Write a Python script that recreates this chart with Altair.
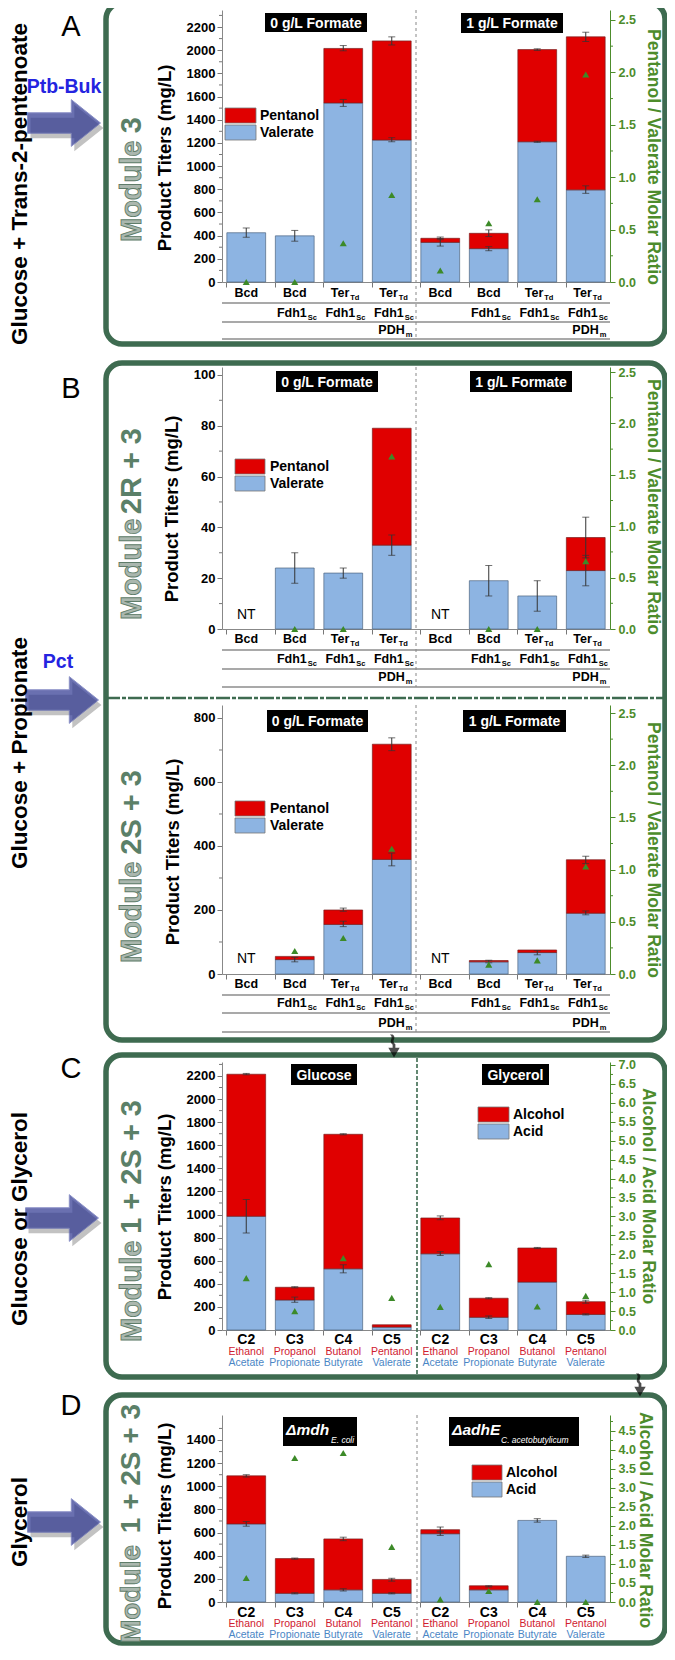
import altair as alt
import pandas as pd

# ---------------- data ----------------
AB_ROW1 = ["Bcd", "Bcd", "Ter", "Ter", "Bcd", "Bcd", "Ter", "Ter"]
AB_ROW1_SUB = ["", "", "Td", "Td", "", "", "Td", "Td"]
AB_ROW2 = ["", "Fdh1", "Fdh1", "Fdh1", "", "Fdh1", "Fdh1", "Fdh1"]
AB_ROW2_SUB = ["", "Sc", "Sc", "Sc", "", "Sc", "Sc", "Sc"]
AB_ROW3 = ["", "", "", "PDH", "", "", "", "PDH"]
AB_ROW3_SUB = ["", "", "", "m", "", "", "", "m"]

CD_CARBON = ["C2", "C3", "C4", "C5", "C2", "C3", "C4", "C5"]
CD_ALCOHOL = ["Ethanol", "Propanol", "Butanol", "Pentanol"] * 2
CD_ACID = ["Acetate", "Propionate", "Butyrate", "Valerate"] * 2

# Panel A (Module 3)
A_VALERATE = [425, 398, 1545, 1225, 342, 288, 1210, 795]
A_TOTAL = [425, 398, 2015, 2080, 377, 420, 2005, 2115]
A_VAL_LO = [386, 352, 1515, 1210, 310, 270, 1205, 765]
A_VAL_HI = [466, 445, 1575, 1245, 375, 305, 1215, 830]
A_TOT_LO = [None, None, 1995, 2045, 365, 392, 1998, 2075]
A_TOT_HI = [None, None, 2040, 2115, 388, 450, 2012, 2155]
A_RATIO = [0.0, 0.0, 0.37, 0.83, 0.11, 0.56, 0.79, 1.98]

# Panel B top (Module 2R + 3)
B1_VALERATE = [None, 24, 22, 33, None, 19, 13, 23]
B1_TOTAL = [None, 24, 22, 79, None, 19, 13, 36]
B1_VAL_LO = [None, 18, 20, 29, None, 13, 7, 17]
B1_VAL_HI = [None, 30, 24, 37, None, 25, 19, 29]
B1_TOT_LO = [None, None, None, None, None, None, None, 28]
B1_TOT_HI = [None, None, None, None, None, None, None, 44]
B1_RATIO = [None, 0.0, 0.0, 1.68, None, 0.0, 0.0, 0.66]

# Panel B bottom (Module 2S + 3)
B2_VALERATE = [None, 45, 155, 358, None, 38, 67, 190]
B2_TOTAL = [None, 55, 200, 718, None, 42, 75, 357]
B2_VAL_LO = [None, 38, 148, 338, None, 35, 60, 185]
B2_VAL_HI = [None, 52, 165, 378, None, 43, 73, 197]
B2_TOT_LO = [None, None, 196, 698, None, None, None, 345]
B2_TOT_HI = [None, None, 206, 738, None, None, None, 368]
B2_RATIO = [None, 0.22, 0.345, 1.2, None, 0.09, 0.13, 1.03]

# Panel C (Module 1 + 2S + 3, glucose / glycerol)
C_ACID = [985, 260, 530, 25, 660, 110, 415, 135]
C_TOTAL = [2215, 370, 1695, 45, 970, 275, 710, 245]
C_ACID_LO = [840, 240, 495, None, 645, 100, None, 130]
C_ACID_HI = [1130, 285, 565, None, 678, 122, None, 140]
C_TOT_LO = [2210, 365, 1690, None, 955, 270, 705, 232]
C_TOT_HI = [2222, 375, 1700, None, 988, 280, 715, 258]
C_RATIO = [1.37, 0.50, 1.90, 0.85, 0.61, 1.74, 0.62, 0.90]

# Panel D (Module 1 + 2S + 3, glycerol, knockouts)
D_ACID = [675, 75, 105, 75, 590, 105, 705, 395]
D_TOTAL = [1090, 375, 545, 195, 625, 140, 705, 395]
D_ACID_LO = [655, 70, 95, 70, 575, None, 690, 385]
D_ACID_HI = [695, 80, 115, 80, 612, None, 720, 405]
D_TOT_LO = [1080, 370, 530, 180, 605, 130, None, None]
D_TOT_HI = [1100, 380, 560, 205, 648, 140, None, None]
D_RATIO = [0.63, 3.79, 3.92, 1.45, 0.07, 0.29, 0.0, 0.0]

# ---------------- styling ----------------
W, H = 659, 1638


def P(v):
    return v - 8


FONT = "Liberation Sans"
RED = "#e00000"
BLUE = "#8db4e2"
TRI = "#3c8a28"
GRN = "#4d8c2c"
FRAME = "#3e6b50"
NAVY = "#2c3590"
DM = {"Ter": 6, "Fdh1": 12, "PDH": 13}

one = alt.Data(values=[{"k": 1}])
layers = []


def deco_text(x, y, text, **kw):
    layers.append(alt.Chart(one).mark_text(text=text, **kw).encode(
        x=alt.value(P(x)), y=alt.value(P(y))))


def deco_rect(x1, x2, y1, y2, **kw):
    layers.append(alt.Chart(one).mark_rect(**kw).encode(
        x=alt.value(P(x1)), x2=alt.value(P(x2)), y=alt.value(P(y1)), y2=alt.value(P(y2))))


def deco_rule(x1, x2, y1, y2, **kw):
    layers.append(alt.Chart(one).mark_rule(**kw).encode(
        x=alt.value(P(x1)), x2=alt.value(P(x2)), y=alt.value(P(y1)), y2=alt.value(P(y2))))


def deco_symbol(x, y, shape, size, **kw):
    layers.append(alt.Chart(one).mark_point(shape=shape, size=size, filled=True, **kw).encode(
        x=alt.value(P(x)), y=alt.value(P(y))))


def title_box(x1, x2, y1, y2, text, size=14):
    deco_rect(x1, x2, y1, y2, color="black")
    deco_text((x1 + x2) / 2, (y1 + y2) / 2 + 1, text, font=FONT, fontWeight="bold",
              fontSize=size, color="white", align="center", baseline="middle")


def legend(x1, x2, yA, yB, labA, labB, tx):
    deco_rect(x1, x2, yA, yA + 15, color=RED, stroke="#777", strokeWidth=0.8)
    deco_rect(x1, x2, yB, yB + 15, color=BLUE, stroke="#777", strokeWidth=0.8)
    deco_text(tx, yA + 8, labA, font=FONT, fontWeight="bold", fontSize=14,
              align="left", baseline="middle", color="black")
    deco_text(tx, yB + 8, labB, font=FONT, fontWeight="bold", fontSize=14,
              align="left", baseline="middle", color="black")


def bar_panel(key, y0, ytop, lmax, rmax, lmaj, lmin, rmaj, rmin,
              acid, total, a_lo, a_hi, t_lo, t_hi, ratio):
    ids = [f"{key}{i}" for i in range(8)]
    xs = alt.Scale(domain=ids, range=[P(222), P(610)], paddingInner=0.2, paddingOuter=0.1)
    ls = alt.Scale(domain=[0, lmax], range=[P(y0), P(ytop)], nice=False, zero=False)
    rs = alt.Scale(domain=[0, rmax], range=[P(y0), P(ytop)], nice=False, zero=False)

    def X(axis=None):
        return alt.X("id:N", scale=xs, axis=axis)

    df = pd.DataFrame([{"id": i, "base": 0, "acid": a, "total": t}
                       for i, a, t in zip(ids, acid, total) if a is not None])
    xaxis = alt.Axis(orient="bottom", offset=-(H - P(y0)), labels=False, title=None,
                     tickSize=5, tickColor="#777", domainColor="#888", bandPosition=0, grid=False)
    yaxis = alt.Axis(orient="left", offset=-P(222), values=lmaj, format="d", title=None,
                     labelFont=FONT, labelFontSize=13, labelFontWeight="bold", labelColor="black",
                     tickSize=5, tickColor="#777", domainColor="#888", grid=False, labelPadding=2)
    raxis = alt.Axis(orient="right", offset=-(W - P(610)), values=rmaj, format=".1f", title=None,
                     labelFont=FONT, labelFontSize=12.5, labelFontWeight="bold", labelColor=GRN,
                     tickSize=5, tickColor=GRN, domainColor=GRN, grid=False, labelPadding=3)

    layers.append(alt.Chart(df).mark_bar(color=BLUE, stroke="#4d6480", strokeWidth=0.7).encode(
        x=X(xaxis), y=alt.Y("acid:Q", scale=ls, axis=yaxis), y2=alt.Y2("base")))
    dfa = df[df["total"] > df["acid"]]
    layers.append(alt.Chart(dfa).mark_bar(color=RED, stroke="#7a2020", strokeWidth=0.7).encode(
        x=X(), y=alt.Y("total:Q", scale=ls, axis=None), y2=alt.Y2("acid")))

    errs = []
    for i, lo, hi in list(zip(ids, a_lo, a_hi)) + list(zip(ids, t_lo, t_hi)):
        if lo is not None:
            errs.append({"id": i, "lo": lo, "hi": hi})
    edf = pd.DataFrame(errs)
    cdf = pd.DataFrame([{"id": e["id"], "v": e[k]} for e in errs for k in ("lo", "hi")])
    layers.append(alt.Chart(edf).mark_rule(color="#333", strokeWidth=1).encode(
        x=X(), y=alt.Y("lo:Q", scale=ls, axis=None), y2=alt.Y2("hi")))
    layers.append(alt.Chart(cdf).mark_tick(color="#333", thickness=1, size=7, orient="horizontal").encode(
        x=X(), y=alt.Y("v:Q", scale=ls, axis=None)))

    rdf = pd.DataFrame([{"id": i, "ratio": r} for i, r in zip(ids, ratio) if r is not None])
    layers.append(alt.Chart(rdf).mark_point(shape="triangle-up", filled=True, size=50,
                                            color=TRI, opacity=1).encode(
        x=X(), y=alt.Y("ratio:Q", scale=rs, axis=raxis)))

    # minor ticks
    layers.append(alt.Chart(pd.DataFrame({"v": lmin})).mark_rule(color="#777").encode(
        x=alt.value(P(222) - 3), x2=alt.value(P(222)), y=alt.Y("v:Q", scale=ls, axis=None)))
    layers.append(alt.Chart(pd.DataFrame({"v": rmin})).mark_rule(color=GRN).encode(
        x=alt.value(P(610)), x2=alt.value(P(610) + 3), y=alt.Y("v:Q", scale=rs, axis=None)))
    return ids, X, df


def ab_labels(ids, X, ys, lines, div_top, nt_y, acid):
    rows = [(AB_ROW1, AB_ROW1_SUB), (AB_ROW2, AB_ROW2_SUB), (AB_ROW3, AB_ROW3_SUB)]
    for (mains, subs), y in zip(rows, ys):
        df = pd.DataFrame({"id": ids, "main": mains, "sub": subs})
        for lab in sorted(set(m for m in mains if m)):
            d = df[df["main"] == lab]
            s = d["sub"].iloc[0]
            if s:
                dm = DM[lab]
                layers.append(alt.Chart(d).mark_text(align="right", baseline="middle", dx=dm,
                                                     font=FONT, fontWeight="bold", fontSize=12.5,
                                                     color="black").encode(
                    x=X(), y=alt.value(P(y)), text="main:N"))
                layers.append(alt.Chart(d).mark_text(align="left", baseline="middle", dx=dm + 1, dy=5,
                                                     font=FONT, fontWeight="bold", fontSize=7.5,
                                                     color="black").encode(
                    x=X(), y=alt.value(P(y)), text="sub:N"))
            else:
                layers.append(alt.Chart(d).mark_text(align="center", baseline="middle",
                                                     font=FONT, fontWeight="bold", fontSize=12.5,
                                                     color="black").encode(
                    x=X(), y=alt.value(P(y)), text="main:N"))
    for ly in lines:
        deco_rule(222, 610, ly, ly, color="#555", strokeWidth=1.2)
    deco_rule(416, 416, div_top, lines[-1], color="#888", strokeWidth=1, strokeDash=[3, 3])
    if nt_y is not None:
        nd = pd.DataFrame({"id": [i for i, a in zip(ids, acid) if a is None], "t": "NT"})
        layers.append(alt.Chart(nd).mark_text(align="center", baseline="middle", font=FONT,
                                              fontSize=14, color="black").encode(
            x=X(), y=alt.value(P(nt_y)), text="t:N"))


def cd_labels(ids, X, ys):
    df = pd.DataFrame({"id": ids, "c": CD_CARBON, "al": CD_ALCOHOL, "ac": CD_ACID})
    layers.append(alt.Chart(df).mark_text(font=FONT, fontWeight="bold", fontSize=14, color="black",
                                          baseline="middle").encode(
        x=X(), y=alt.value(P(ys[0])), text="c:N"))
    layers.append(alt.Chart(df).mark_text(font=FONT, fontSize=10.5, color="#d0202f",
                                          baseline="middle").encode(
        x=X(), y=alt.value(P(ys[1])), text="al:N"))
    layers.append(alt.Chart(df).mark_text(font=FONT, fontSize=10.5, color="#4a86c5",
                                          baseline="middle").encode(
        x=X(), y=alt.value(P(ys[2])), text="ac:N"))


def axis_titles(lx, ly, ltext, rx, ry, rtext):
    deco_text(lx, ly, ltext, angle=270, font=FONT, fontWeight="bold", fontSize=18.5,
              color="black", align="center", baseline="middle")
    deco_text(rx, ry, rtext, angle=90, font=FONT, fontWeight="bold", fontSize=17.5,
              color=GRN, align="center", baseline="middle")


def module_text(x, ybot, ytop, suffix, size=29):
    deco_text(x, ybot, "Module", angle=270, font=FONT, fontWeight="bold", fontSize=size,
              color="#aab7ae", stroke="#5f7d6a", strokeWidth=0.9, align="left", baseline="middle")
    deco_text(x, ytop, suffix, angle=270, font=FONT, fontWeight="bold", fontSize=size,
              color="#5b8068", align="right", baseline="middle")


# ---------------- frames ----------------
for (t, b) in [(3, 344), (363, 1040), (1055, 1377), (1395, 1643)]:
    deco_rect(106, 665, t, b, fill="white", fillOpacity=0, stroke=FRAME, strokeWidth=5.5,
              cornerRadius=16)
deco_rule(106, 665, 698, 698, color=FRAME, strokeWidth=2.5, strokeDash=[14, 2, 4, 2])

SQUIGGLE = ("M -0.12 -1 C 0.3 -0.7 -0.3 -0.45 0.12 -0.15 L 0.12 0.15 L 0.5 0.15 L 0 1 "
            "L -0.5 0.15 L -0.12 0.15 L -0.12 -0.1 C -0.55 -0.45 0.05 -0.7 -0.36 -1 Z")
deco_symbol(394, 1046, SQUIGGLE, 520, color="black")
deco_symbol(640, 1385, SQUIGGLE, 520, color="black")

# ---------------- left side decorations ----------------
ARROW = "M -1 -0.28 L 0.2 -0.28 L 0.2 -0.64 L 1 0 L 0.2 0.64 L 0.2 0.28 L -1 0.28 Z"
for (ax, ay) in [(64, 123), (62, 700), (62, 1218), (64, 1522)]:
    deco_symbol(ax + 3, ay + 5, ARROW, 5329, color="#777", opacity=0.45)
    deco_symbol(ax, ay, ARROW, 5329, color=NAVY, stroke="#5a63b0", strokeWidth=1)
deco_text(64, 87, "Ptb-Buk", font=FONT, fontWeight="bold", fontSize=19.5, color="#2424e0",
          align="center", baseline="middle")
deco_text(58, 662, "Pct", font=FONT, fontWeight="bold", fontSize=19.5, color="#2424e0",
          align="center", baseline="middle")

for (ty, txt) in [(184, "Glucose + Trans-2-pentenoate"), (753, "Glucose + Propionate"),
                  (1219, "Glucose or Glycerol"), (1522, "Glycerol")]:
    deco_text(20, ty, txt, angle=270, font=FONT, fontWeight="bold", fontSize=22.5, color="black",
              align="center", baseline="middle")

for (ly, lt) in [(27, "A"), (389, "B"), (1069, "C"), (1406, "D")]:
    deco_text(71, ly, lt, font=FONT, fontSize=29, color="black", align="center", baseline="middle")

module_text(132, 242, 117, "3")
module_text(132, 620, 428, "2R + 3")
module_text(132, 963, 770, "2S + 3")
module_text(132, 1342, 1100, "1 + 2S + 3")
module_text(132, 1643, 1404, "1 + 2S + 3", size=28)

# ---------------- panel A ----------------
ids, X, _ = bar_panel("A", 282, 10, 2346.7, 2.595,
                      list(range(0, 2201, 200)), list(range(100, 2301, 200)),
                      [0, 0.5, 1.0, 1.5, 2.0, 2.5], [0.25, 0.75, 1.25, 1.75, 2.25],
                      A_VALERATE, A_TOTAL, A_VAL_LO, A_VAL_HI, A_TOT_LO, A_TOT_HI, A_RATIO)
ab_labels(ids, X, [293, 313, 330], [303, 322, 339], 10, None, A_VALERATE)
title_box(265, 367, 13, 32, "0 g/L Formate")
title_box(461, 563, 13, 33, "1 g/L Formate")
legend(225, 256, 108, 125, "Pentanol", "Valerate", 260)
axis_titles(165, 158, "Product Titers (mg/L)", 653, 157, "Pentanol / Valerate Molar Ratio")

# ---------------- panel B top ----------------
ids, X, _ = bar_panel("B", 629, 367, 103.1, 2.549,
                      [0, 20, 40, 60, 80, 100], [10, 30, 50, 70, 90],
                      [0, 0.5, 1.0, 1.5, 2.0, 2.5], [0.25, 0.75, 1.25, 1.75, 2.25],
                      B1_VALERATE, B1_TOTAL, B1_VAL_LO, B1_VAL_HI, B1_TOT_LO, B1_TOT_HI, B1_RATIO)
ab_labels(ids, X, [639, 659, 677], [650, 669, 687], 367, 615, B1_VALERATE)
title_box(276, 378, 371, 392, "0 g/L Formate")
title_box(470, 572, 371, 392, "1 g/L Formate")
legend(235, 265, 459, 476, "Pentanol", "Valerate", 270)
axis_titles(172, 509, "Product Titers (mg/L)", 653, 507, "Pentanol / Valerate Molar Ratio")

# ---------------- panel B bottom ----------------
ids, X, _ = bar_panel("E", 974, 705, 840.6, 2.577,
                      [0, 200, 400, 600, 800], [100, 300, 500, 700],
                      [0, 0.5, 1.0, 1.5, 2.0, 2.5], [0.25, 0.75, 1.25, 1.75, 2.25],
                      B2_VALERATE, B2_TOTAL, B2_VAL_LO, B2_VAL_HI, B2_TOT_LO, B2_TOT_HI, B2_RATIO)
ab_labels(ids, X, [984, 1003, 1023], [995, 1013, 1032], 705, 959, B2_VALERATE)
title_box(267, 368, 710, 732, "0 g/L Formate")
title_box(463, 566, 710, 732, "1 g/L Formate")
legend(235, 265, 801, 818, "Pentanol", "Valerate", 270)
axis_titles(173, 852, "Product Titers (mg/L)", 653, 850, "Pentanol / Valerate Molar Ratio")

# ---------------- panel C ----------------
ids, X, _ = bar_panel("C", 1330, 1062, 2321, 7.079,
                      list(range(0, 2201, 200)), list(range(100, 2301, 200)),
                      [v / 2 for v in range(0, 15)], [v / 2 + 0.25 for v in range(0, 14)],
                      C_ACID, C_TOTAL, C_ACID_LO, C_ACID_HI, C_TOT_LO, C_TOT_HI, C_RATIO)
cd_labels(ids, X, [1340, 1352, 1363])
deco_rule(417, 417, 1058, 1375, color=FRAME, strokeWidth=1.6, strokeDash=[4, 2])
title_box(291, 357, 1064, 1085, "Glucose")
title_box(482, 549, 1064, 1085, "Glycerol")
legend(478, 509, 1107, 1124, "Alcohol", "Acid", 513)
axis_titles(165, 1207, "Product Titers (mg/L)", 648, 1196, "Alcohol / Acid Molar Ratio")

# ---------------- panel D ----------------
ids, X, _ = bar_panel("D", 1602, 1415, 1616, 4.921,
                      list(range(0, 1401, 200)), list(range(100, 1501, 200)),
                      [v / 2 for v in range(0, 10)], [v / 2 + 0.25 for v in range(0, 10)],
                      D_ACID, D_TOTAL, D_ACID_LO, D_ACID_HI, D_TOT_LO, D_TOT_HI, D_RATIO)
cd_labels(ids, X, [1613, 1624, 1635])
deco_rule(417, 417, 1415, 1640, color="#888", strokeWidth=1, strokeDash=[3, 3])
deco_rect(283, 357, 1417, 1446, color="black")
deco_text(286, 1430, "\u0394mdh", font=FONT, fontWeight="bold", fontStyle="italic", fontSize=15.5,
          color="white", align="left", baseline="middle")
deco_text(331, 1440, "E. coli", font=FONT, fontStyle="italic", fontSize=8.5,
          color="white", align="left", baseline="middle")
deco_rect(449, 579, 1417, 1446, color="black")
deco_text(452, 1430, "\u0394adhE", font=FONT, fontWeight="bold", fontStyle="italic", fontSize=15.5,
          color="white", align="left", baseline="middle")
deco_text(501, 1440, "C. acetobutylicum", font=FONT, fontStyle="italic", fontSize=8.5,
          color="white", align="left", baseline="middle")
legend(472, 502, 1465, 1482, "Alcohol", "Acid", 506)
axis_titles(165, 1516, "Product Titers (mg/L)", 645, 1520, "Alcohol / Acid Molar Ratio")

chart = alt.layer(*layers).resolve_scale(x="independent", y="independent").properties(
    width=W, height=H, padding=0, autosize=alt.AutoSizeParams(type="none")
).configure_view(stroke=None).configure_axis(grid=False)

chart.save("out.html", embed_options={"renderer": "svg", "actions": False})
